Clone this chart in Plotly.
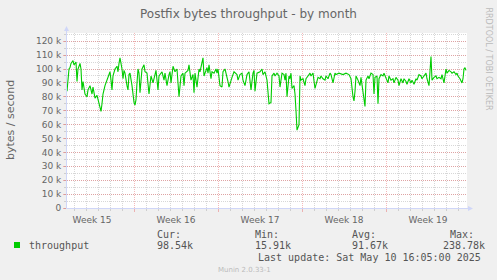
import plotly.graph_objects as go
import pandas as pd

# ---------------- data ----------------
title = "Postfix bytes throughput - by month"
y_label = "bytes / second"
series_name = "throughput"
watermark = "RRDTOOL / TOBI OETIKER"
footer = "Munin 2.0.33-1"
last_update = "Last update: Sat May 10 16:05:00 2025"

start = "2025-04-08 10:00"        # left edge of the month window
span_hours = 800                  # window length
week_tick0 = "2025-04-14"         # a Monday (week boundary)

hours = [0, 2, 4, 6, 8, 12, 14, 18, 20, 22, 26, 28, 30, 32, 36, 40, 42, 46, 50, 52,
         56, 60, 62, 66, 68, 70, 72, 76, 80, 82, 86, 88, 90, 92, 96, 100, 102, 104, 106, 110,
         112, 114, 116, 120, 122, 124, 126, 130, 132, 134, 136, 138, 140, 142, 144, 146, 150, 154, 156, 160,
         164, 168, 172, 176, 178, 182, 184, 190, 194, 196, 200, 204, 206, 208, 212, 216, 220, 224, 228, 232,
         234, 236, 242, 244, 248, 252, 254, 256, 260, 264, 266, 272, 274, 280, 282, 284, 288, 290, 294, 298,
         300, 302, 306, 310, 312, 316, 320, 322, 324, 328, 330, 334, 340, 342, 346, 350, 352, 356, 360, 364,
         368, 372, 374, 376, 380, 386, 390, 392, 396, 400, 402, 404, 408, 410, 414, 416, 420, 424, 426, 430,
         434, 436, 438, 440, 444, 446, 448, 450, 454, 456, 458, 460, 464, 466, 468, 472, 476, 478, 482, 486,
         488, 492, 496, 500, 502, 506, 508, 512, 516, 518, 522, 526, 528, 532, 536, 538, 544, 552, 558, 564,
         568, 572, 574, 576, 578, 582, 586, 588, 592, 596, 598, 602, 604, 608, 612, 614, 616, 620, 622, 624,
         628, 632, 634, 638, 642, 644, 648, 652, 654, 658, 662, 664, 668, 672, 674, 678, 680, 684, 688, 690,
         694, 698, 700, 704, 708, 710, 714, 718, 720, 724, 728, 730, 734, 738, 740, 744, 748, 750, 754, 758,
         760, 764, 768, 770, 774, 778, 780, 782, 786, 790, 792, 794, 796, 798]

values_k = [84, 92, 100, 101, 104, 106, 103, 105, 91, 100, 104, 100, 85, 91, 82, 80, 85, 88, 82, 87,
            79, 81, 78, 72, 69.5, 75, 82, 88, 92, 95, 98, 92, 85, 95, 100, 102, 98, 104, 108, 100,
            93, 99, 97, 88, 85, 96, 97, 88, 80, 76, 74, 78, 90, 100, 97, 83, 100, 103, 98, 97,
            82, 95, 90, 97, 99, 85, 95, 98, 92, 97, 88, 96, 98, 90, 102, 98, 100, 80, 95, 97,
            88, 97, 99, 103, 92, 96, 83, 97, 87, 100, 98, 108, 95, 101, 97, 103, 93, 98, 97, 100,
            97, 100, 88, 87, 98, 100, 95, 91, 87, 93, 94, 98, 96, 92, 96, 97, 92, 88, 96, 98,
            85, 97, 99, 84, 97, 98, 100, 96, 98, 92, 80, 75, 76, 95, 97, 95, 97, 95, 87, 97,
            96, 92, 97, 80, 95, 93, 97, 86, 88, 82, 70, 56, 60, 95, 92, 93, 88, 93, 95, 97,
            95, 97, 86, 92, 94, 93, 95, 93, 92, 95, 93, 97, 96, 90, 97, 96, 97, 96, 97, 96,
            93, 80, 77, 84, 95, 92, 88, 94, 85, 73, 92, 95, 93, 97, 96, 82, 94, 95, 75, 93,
            96, 95, 97, 93, 90, 95, 92, 93, 90, 94, 92, 88, 93, 90, 93, 91, 89, 93, 90, 92,
            89, 93, 92, 96, 95, 93, 95, 97, 93, 88, 109, 92, 94, 95, 93, 94, 93, 96, 90, 100,
            97, 99, 98, 97, 98, 96, 97, 95, 93, 90, 93, 100, 101, 99]

y_tick_vals = [0, 10000, 20000, 30000, 40000, 50000, 60000, 70000, 80000, 90000, 100000, 110000, 120000]
y_tick_text = ["0", "10 k", "20 k", "30 k", "40 k", "50 k", "60 k", "70 k", "80 k", "90 k", "100 k", "110 k", "120 k"]
y_max = 125900

stat_labels = ["Cur:", "Min:", "Avg:", "Max:"]
stat_values = ["98.54k", "15.91k", "91.67k", "238.78k"]

# ---------------- styling ----------------
W, H = 497, 280
L, R, T, B = 67, 30, 33, 72
PW, PH = W - L - R, H - T - B
BG = "#F0F0F0"
FONT_C = "#666666"
MONO_C = "#555555"
LINE_C = "#00CC00"
AXIS_C = "#CFD6F8"
MGRID = "rgba(230,90,90,0.42)"
GRID = "rgba(150,150,150,0.38)"
DOT = "1px,1px"


def px(x):
    return (x - L) / PW


def py(y):
    return (H - B - y) / PH


t0 = pd.Timestamp(start)
times = t0 + pd.to_timedelta(hours, unit="h")
values = [v * 1000 for v in values_k]

fig = go.Figure()
fig.add_trace(go.Scatter(x=times, y=values, mode="lines", name=series_name,
                         line=dict(color=LINE_C, width=1.1), hoverinfo="skip"))

fig.update_layout(
    width=W, height=H,
    margin=dict(l=L, r=R, t=T, b=B, pad=0),
    paper_bgcolor=BG, plot_bgcolor="#FFFFFF",
    showlegend=False,
    font=dict(family="DejaVu Sans", size=9, color=FONT_C),
)

fig.update_xaxes(
    type="date",
    range=[t0, t0 + pd.Timedelta(hours=span_hours)],
    tick0=week_tick0, dtick=7 * 86400000,
    ticklabelmode="period", tickformat="Week %V",
    showgrid=True, gridcolor=MGRID, griddash=DOT, gridwidth=1,
    ticks="outside", ticklen=3, tickcolor=MGRID, tickwidth=1,
    minor=dict(dtick=86400000, tick0=week_tick0, showgrid=True, gridcolor=GRID,
               griddash=DOT, gridwidth=1, ticks="outside", ticklen=2, tickcolor=GRID),
    showline=False, zeroline=False,
    tickfont=dict(size=9, color=FONT_C),
    fixedrange=True,
)

fig.update_yaxes(
    range=[0, y_max],
    tickmode="array", tickvals=y_tick_vals, ticktext=y_tick_text,
    showgrid=True, gridcolor=MGRID, griddash=DOT, gridwidth=1,
    ticks="outside", ticklen=3, tickcolor=MGRID, tickwidth=1,
    minor=dict(dtick=5000, tick0=0, showgrid=True, gridcolor=GRID, griddash=DOT,
               gridwidth=1, ticks="outside", ticklen=2, tickcolor=GRID),
    showline=False, zeroline=False,
    tickfont=dict(size=9, color=FONT_C),
    fixedrange=True,
)

shapes = []
# axis lines with arrows
shapes.append(dict(type="line", xref="paper", yref="paper",
                   x0=px(66.5), y0=py(208.5), x1=px(471), y1=py(208.5),
                   line=dict(color=AXIS_C, width=1)))
shapes.append(dict(type="path", xref="paper", yref="paper",
                   path=f"M {px(468)},{py(206)} L {px(473)},{py(208.5)} L {px(468)},{py(211)} Z",
                   fillcolor=AXIS_C, line=dict(color=AXIS_C, width=0)))
shapes.append(dict(type="line", xref="paper", yref="paper",
                   x0=px(66.5), y0=py(208.5), x1=px(66.5), y1=py(29),
                   line=dict(color=AXIS_C, width=1)))
shapes.append(dict(type="path", xref="paper", yref="paper",
                   path=f"M {px(64)},{py(31)} L {px(66.5)},{py(26)} L {px(69)},{py(31)} Z",
                   fillcolor=AXIS_C, line=dict(color=AXIS_C, width=0)))
# legend swatch
shapes.append(dict(type="rect", xref="paper", yref="paper",
                   x0=px(14), y0=py(242), x1=px(20), y1=py(248),
                   fillcolor=LINE_C, line=dict(width=0)))
fig.update_layout(shapes=shapes)

ann = []


def add_text(text, x, y, xanchor="left", size=10, color=MONO_C, family="DejaVu Sans Mono",
             angle=0, yanchor="middle"):
    ann.append(dict(text=text, x=px(x), y=py(y), xref="paper", yref="paper",
                    xanchor=xanchor, yanchor=yanchor, showarrow=False, textangle=angle,
                    font=dict(family=family, size=size, color=color)))


add_text(title, 248, 13.5, xanchor="center", size=12, color=FONT_C, family="DejaVu Sans")
add_text(y_label, 10, 120, xanchor="center", size=11, color=FONT_C, family="DejaVu Sans", angle=-90)
add_text(watermark, 488, 5, xanchor="center", size=8, color="#BBBBBB", family="DejaVu Sans",
         angle=90, yanchor="top")
add_text(series_name, 27, 245.5)
stat_x = [155, 252.5, 350, 447.5]
val_x = [155, 252.5, 350, 441]
for lab, val, lx, vx in zip(stat_labels, stat_values, stat_x, val_x):
    add_text(lab, lx, 234)
    add_text(val, vx, 245.5)
add_text(last_update, 482.5, 257.5, xanchor="right")
add_text(footer, 244, 269.5, xanchor="center", size=7, color="#BBBBBB", family="DejaVu Sans")

fig.update_layout(annotations=ann)
fig.write_html("out.html")
